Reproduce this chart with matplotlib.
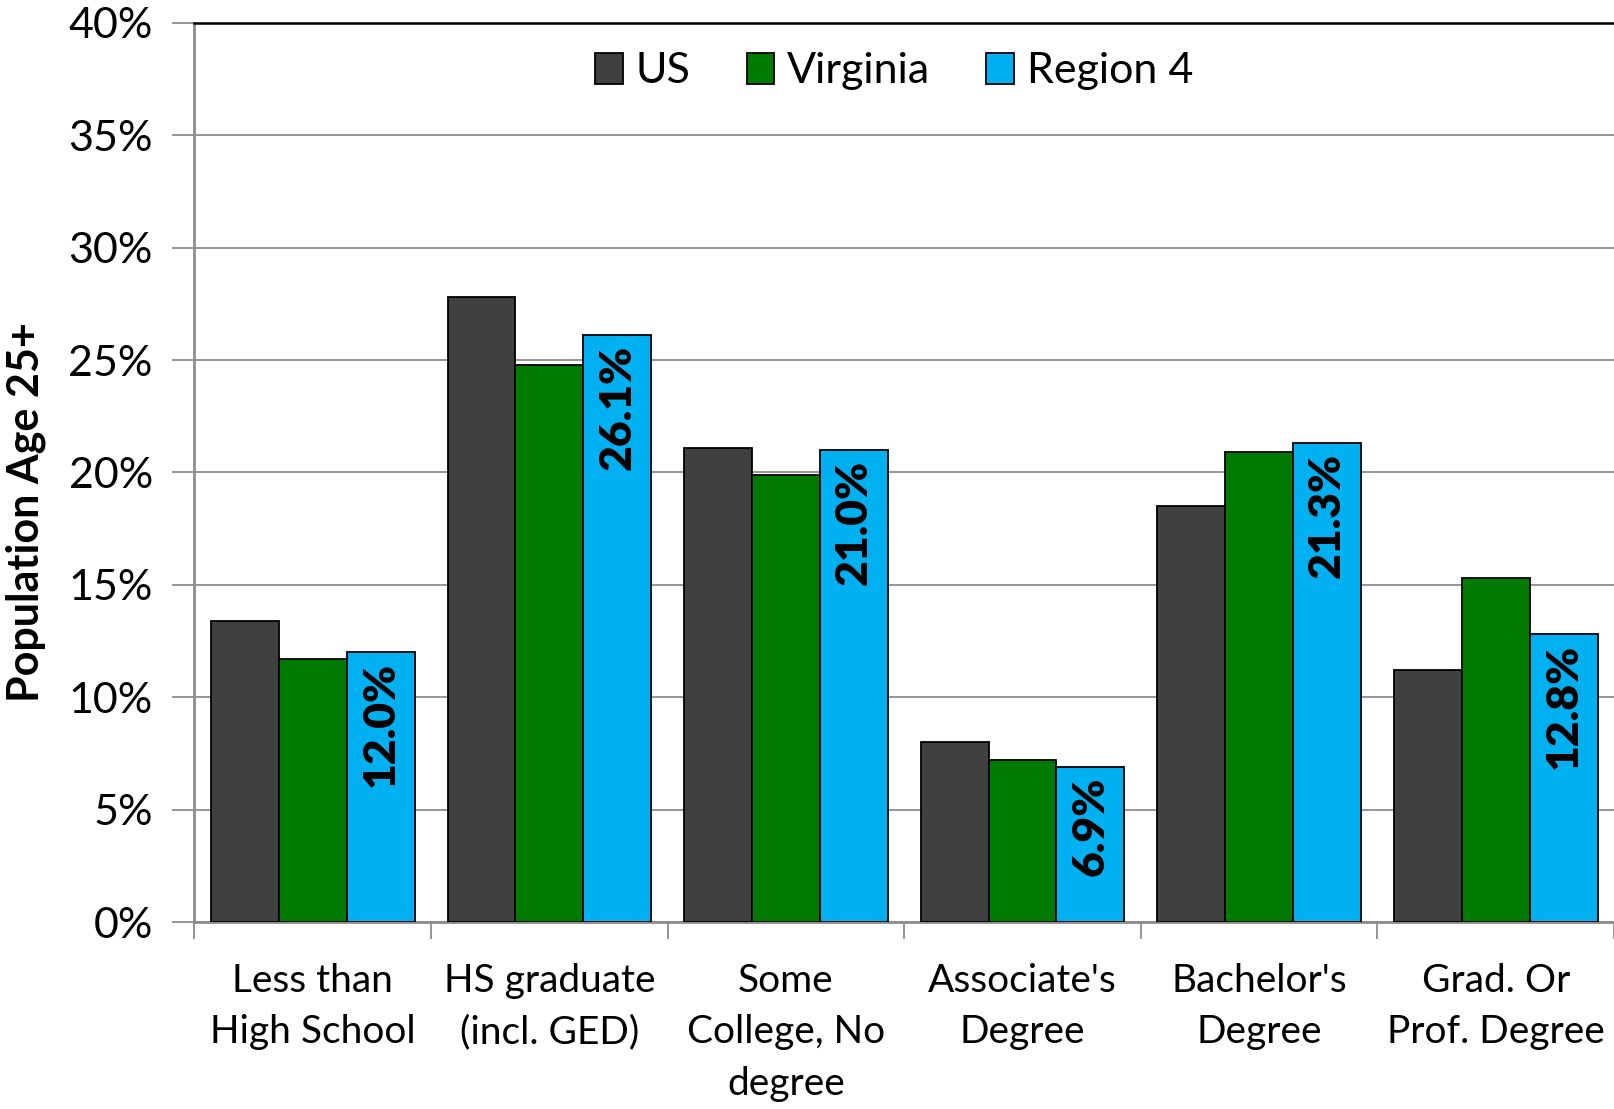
import matplotlib
matplotlib.use("Agg")
import matplotlib.pyplot as plt
import numpy as np
from matplotlib.ticker import FuncFormatter

categories = ["Less than\nHigh School", "HS graduate\n(incl. GED)", "Some\nCollege, No\ndegree",
              "Associate's\nDegree", "Bachelor's\nDegree", "Grad. Or\nProf. Degree"]
us = [13.4, 27.8, 21.1, 8.0, 18.5, 11.2]
virginia = [11.7, 24.8, 19.9, 7.2, 20.9, 15.3]
region4 = [12.0, 26.1, 21.0, 6.9, 21.3, 12.8]
series_names = ["US", "Virginia", "Region 4"]
colors = ["#404040", "#007A00", "#00B0F0"]

plt.rcParams['font.family'] = ['Lato', 'DejaVu Sans']

fig = plt.figure(figsize=(16.14, 11.09), dpi=100)
ax = fig.add_axes([0.1205, 0.1683, 0.8795, 0.8113])

x = np.arange(len(categories))
w = 0.287
for i, (vals, name, c) in enumerate(zip([us, virginia, region4], series_names, colors)):
    bars = ax.bar(x + (i - 1) * w, vals, w, color=c, edgecolor="black", linewidth=1.3,
                  label=name, zorder=3)
    if i == 2:
        for b, v in zip(bars, vals):
            ax.annotate(f"{v:.1f}%", (b.get_x() + b.get_width() / 2, v),
                        xytext=(0, -7), textcoords="offset points",
                        rotation=90, ha="center", va="top",
                        fontsize=32, fontweight="heavy", color="black", zorder=4)

ax.set_xlim(-0.5, 5.5)
ax.set_ylim(0, 40)
ax.set_yticks(np.arange(0, 41, 5))
ax.yaxis.set_major_formatter(FuncFormatter(lambda v, p: f"{v:.0f}%"))
ax.grid(axis="y", color="#8c8c8c", linewidth=1.3, zorder=0)

ax.set_xticks(np.arange(-0.5, 6.0, 1.0))
ax.set_xticklabels([])
ax.set_xticks(x, minor=True)
ax.set_xticklabels(categories, minor=True, fontsize=28, linespacing=1.54)
ax.tick_params(axis="x", which="minor", length=0, pad=29)
ax.tick_params(axis="x", which="major", length=12, width=1.3, color="#8c8c8c")
ax.tick_params(axis="y", length=16, width=1.3, color="#8c8c8c", labelsize=31, pad=14)

for s in ["left", "bottom"]:
    ax.spines[s].set_color("#8c8c8c")
    ax.spines[s].set_linewidth(2)
ax.spines["top"].set_color("black")
ax.spines["top"].set_linewidth(1.8)
ax.spines["right"].set_visible(False)

ax.set_ylabel("Population Age 25+", fontsize=31, fontweight="bold", labelpad=16)
ax.yaxis.label.set_y(0.4565)

leg = ax.legend(loc="upper center", bbox_to_anchor=(0.493, 1.01), ncol=3, frameon=False,
                fontsize=31, handlelength=0.64, handleheight=0.72, handletextpad=0.3,
                columnspacing=1.3)

fig.savefig("out.png", dpi=100)
